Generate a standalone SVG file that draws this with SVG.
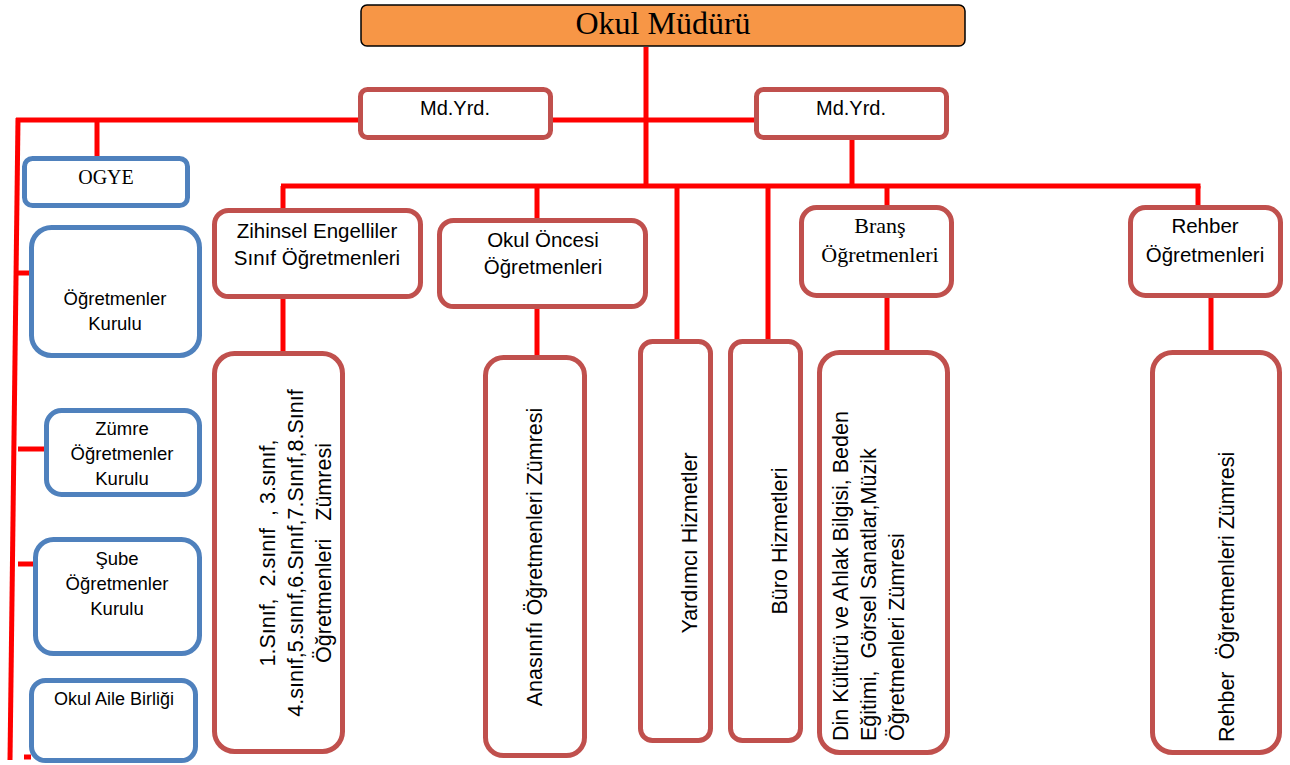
<svg xmlns="http://www.w3.org/2000/svg" width="1290" height="765" viewBox="0 0 1290 765">
<style>
.red{fill:#fff;stroke:#C0504D;stroke-width:5}
.blue{fill:#fff;stroke:#4F81BD;stroke-width:5}
.c{stroke:#FF0000;stroke-width:5;fill:none}
.s{font-family:"Liberation Sans",Arial,sans-serif;fill:#000}
.r{font-family:"Liberation Serif","Times New Roman",serif;fill:#000}
.m{text-anchor:middle}
.v{font-family:"Liberation Sans",Arial,sans-serif;font-size:21.5px;fill:#000;white-space:pre}
</style>
<rect width="1290" height="765" fill="#fff"/>
<g id="connectors">
<line class="c" x1="646" y1="47" x2="646" y2="186"/>
<line class="c" x1="16" y1="120" x2="360" y2="120"/>
<line class="c" x1="551" y1="120" x2="756" y2="120"/>
<line class="c" x1="852" y1="138" x2="852" y2="186"/>
<line class="c" x1="281" y1="186" x2="1200.5" y2="186"/>
<line class="c" x1="283" y1="186" x2="283" y2="210"/>
<line class="c" x1="537" y1="186" x2="537" y2="220"/>
<line class="c" x1="677" y1="186" x2="677" y2="341"/>
<line class="c" x1="768" y1="186" x2="768" y2="341"/>
<line class="c" x1="887" y1="186" x2="887" y2="207"/>
<line class="c" x1="1198" y1="186" x2="1198" y2="207"/>
<line class="c" x1="283" y1="297" x2="283" y2="353"/>
<line class="c" x1="537" y1="307" x2="537" y2="357"/>
<line class="c" x1="887" y1="296" x2="887" y2="352"/>
<line class="c" x1="1211" y1="296" x2="1211" y2="352"/>
<line class="c" x1="18" y1="118" x2="10" y2="760"/>
<line class="c" x1="97" y1="120" x2="97" y2="158"/>
<line class="c" x1="17" y1="273" x2="31" y2="273"/>
<line class="c" x1="18" y1="449" x2="46" y2="449"/>
<line class="c" x1="18" y1="564" x2="35" y2="564"/>
<line class="c" x1="24" y1="757" x2="31" y2="757"/>
</g>
<g id="okul-muduru">
<rect x="361" y="5" width="604" height="41" rx="6" fill="#F79646" stroke="#000" stroke-width="1.5"/>
<text class="r m" x="663" y="34" font-size="32">Okul Müdürü</text>
</g>
<g id="mdyrd-left">
<rect class="red" x="360.5" y="89.5" width="190" height="48" rx="7"/>
<text class="s m" x="455" y="115" font-size="20">Md.Yrd.</text>
</g>
<g id="mdyrd-right">
<rect class="red" x="756.5" y="89.5" width="190" height="48" rx="7"/>
<text class="s m" x="851" y="115" font-size="20">Md.Yrd.</text>
</g>
<g id="ogye">
<rect class="blue" x="24.5" y="158.5" width="163" height="47" rx="8"/>
<text class="r m" x="106" y="184" font-size="20">OGYE</text>
</g>
<g id="ogretmenler-kurulu">
<rect class="blue" x="31.5" y="227.5" width="168" height="128" rx="20"/>
<text class="s m" x="115" y="305" font-size="18.5">Öğretmenler</text>
<text class="s m" x="115" y="330" font-size="18.5">Kurulu</text>
</g>
<g id="zumre">
<rect class="blue" x="46.5" y="410.5" width="153" height="84" rx="15"/>
<text class="s m" x="122" y="435" font-size="18.5">Zümre</text>
<text class="s m" x="122" y="460" font-size="18.5">Öğretmenler</text>
<text class="s m" x="122" y="485" font-size="18.5">Kurulu</text>
</g>
<g id="sube">
<rect class="blue" x="35.5" y="539.5" width="164" height="114" rx="18"/>
<text class="s m" x="117" y="565" font-size="18.5">Şube</text>
<text class="s m" x="117" y="590" font-size="18.5">Öğretmenler</text>
<text class="s m" x="117" y="615" font-size="18.5">Kurulu</text>
</g>
<g id="okul-aile">
<rect class="blue" x="31.5" y="680.5" width="164" height="80" rx="14"/>
<text class="s m" x="114" y="705" font-size="18">Okul Aile Birliği</text>
</g>
<g id="zihinsel">
<rect class="red" x="214.5" y="210.5" width="206" height="86" rx="14"/>
<text class="s m" x="317" y="238" font-size="20.5">Zihinsel Engelliler</text>
<text class="s m" x="317" y="265" font-size="20.5">Sınıf Öğretmenleri</text>
</g>
<g id="okul-oncesi">
<rect class="red" x="439.5" y="220.5" width="206" height="86" rx="14"/>
<text class="s m" x="543" y="247" font-size="20.5">Okul Öncesi</text>
<text class="s m" x="543" y="274" font-size="20.5">Öğretmenleri</text>
</g>
<g id="brans">
<rect class="red" x="801.5" y="207.5" width="150" height="88" rx="15"/>
<text class="r m" x="880" y="233" font-size="22">Branş</text>
<text class="r m" x="880" y="262" font-size="22">Öğretmenleri</text>
</g>
<g id="rehber">
<rect class="red" x="1130.5" y="207.5" width="150" height="88" rx="15"/>
<text class="s m" x="1205" y="233" font-size="20.5">Rehber</text>
<text class="s m" x="1205" y="262" font-size="20.5">Öğretmenleri</text>
</g>
<g id="sinif-zumresi">
<rect class="red" x="214.5" y="353.5" width="128" height="398" rx="20"/>
<text class="v m" transform="translate(275,553) rotate(-90)">1.Sınıf,  2.sınıf  , 3.sınıf,</text>
<text class="v m" transform="translate(303,553) rotate(-90)">4.sınıf,5.sınıf,6.Sınıf,7.Sınıf,8.Sınıf</text>
<text class="v m" transform="translate(331,553) rotate(-90)">Öğretmenleri   Zümresi</text>
</g>
<g id="anasinifi">
<rect class="red" x="485.5" y="357.5" width="99" height="398" rx="18"/>
<text class="v m" transform="translate(542,557) rotate(-90)">Anasınıfı Öğretmenleri Zümresi</text>
</g>
<g id="yardimci">
<rect class="red" x="640.5" y="341.5" width="70" height="399" rx="12"/>
<text class="v m" transform="translate(697,543) rotate(-90)">Yardımcı Hizmetler</text>
</g>
<g id="buro">
<rect class="red" x="730.5" y="341.5" width="70" height="399" rx="12"/>
<text class="v m" transform="translate(787,541) rotate(-90)">Büro Hizmetleri</text>
</g>
<g id="din-kulturu">
<rect class="red" x="819.5" y="352.5" width="128" height="400" rx="20"/>
<text class="v" transform="translate(848,741) rotate(-90)">Din Kültürü ve Ahlak Bilgisi, Beden</text>
<text class="v" transform="translate(876,741) rotate(-90)">Eğitimi,  Görsel Sanatlar,Müzik</text>
<text class="v" transform="translate(904,741) rotate(-90)">Öğretmenleri Zümresi</text>
</g>
<g id="rehber-zumresi">
<rect class="red" x="1152.5" y="352.5" width="127" height="400" rx="20"/>
<text class="v" transform="translate(1234,742) rotate(-90)">Rehber  Öğretmenleri Zümresi</text>
</g>
</svg>
